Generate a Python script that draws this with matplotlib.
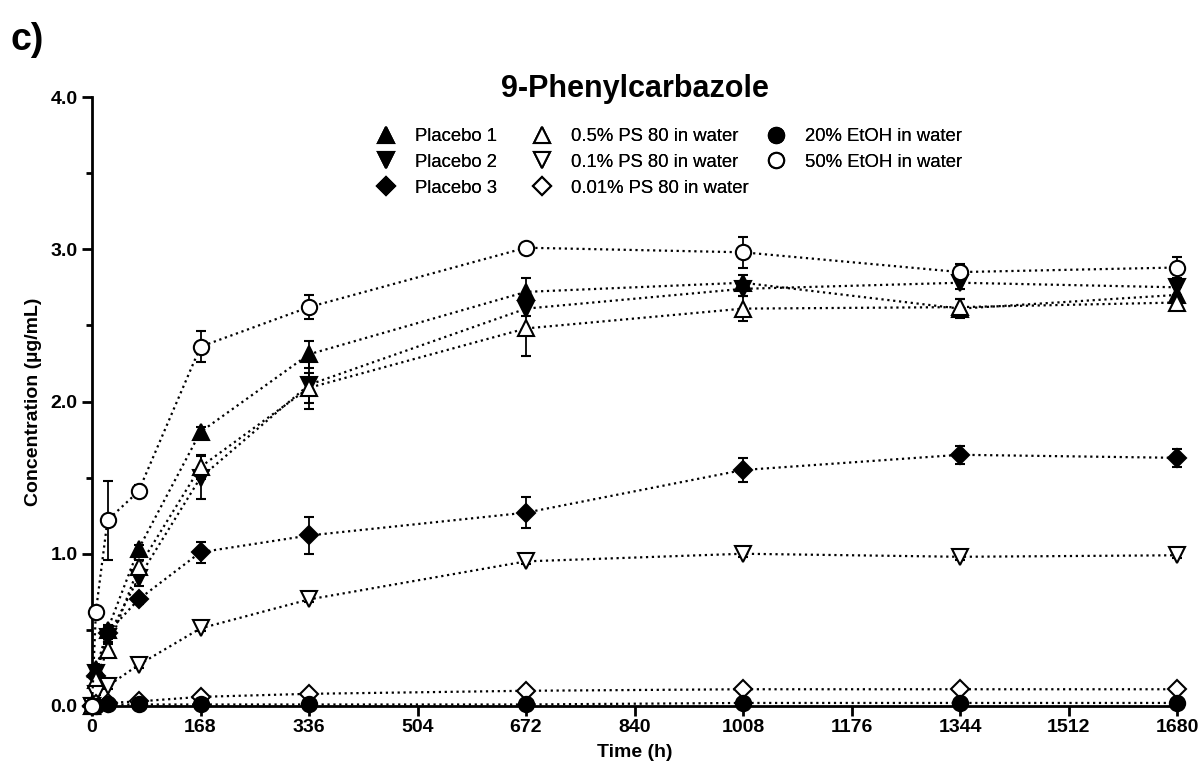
import matplotlib.pyplot as plt
import numpy as np
from matplotlib.lines import Line2D
from matplotlib.ticker import MultipleLocator

plt.rcParams['font.family'] = ['Liberation Sans', 'DejaVu Sans']

# sampling times (h)
time_h = [0, 6, 24, 72, 168, 336, 672, 1008, 1344, 1680]

# mean concentrations (ug/mL)
placebo1 = [0.0, 0.24, 0.50, 1.03, 1.80, 2.31, 2.72, 2.78, 2.61, 2.70]
placebo2 = [0.0, 0.22, 0.45, 0.84, 1.50, 2.11, 2.61, 2.74, 2.78, 2.75]
placebo3 = [0.0, 0.20, 0.48, 0.70, 1.01, 1.12, 1.27, 1.55, 1.65, 1.63]
ps80_05 = [0.0, 0.17, 0.37, 0.91, 1.57, 2.09, 2.48, 2.61, 2.62, 2.65]
ps80_01 = [0.0, 0.08, 0.13, 0.27, 0.51, 0.70, 0.95, 1.00, 0.98, 0.99]
ps80_001 = [0.0, 0.01, 0.02, 0.03, 0.06, 0.08, 0.10, 0.11, 0.11, 0.11]
etoh20 = [0.0, 0.0, 0.01, 0.01, 0.01, 0.01, 0.01, 0.02, 0.02, 0.02]
etoh50 = [0.0, 0.62, 1.22, 1.41, 2.36, 2.62, 3.01, 2.98, 2.85, 2.88]

# standard deviations
placebo1_sd = [0, 0.02, 0.03, 0.03, 0.03, 0.09, 0.09, 0.05, 0.06, 0.05]
placebo2_sd = [0, 0.02, 0.04, 0.05, 0.14, 0.16, 0.05, 0.05, 0.04, 0.05]
placebo3_sd = [0, 0.02, 0.04, 0.03, 0.07, 0.12, 0.10, 0.08, 0.06, 0.06]
ps80_05_sd = [0, 0.02, 0.05, 0.05, 0.08, 0.10, 0.18, 0.08, 0.05, 0.04]
ps80_01_sd = [0, 0.01, 0.02, 0.02, 0.02, 0.02, 0.02, 0.02, 0.02, 0.02]
ps80_001_sd = [0, 0, 0, 0, 0, 0.01, 0.01, 0.01, 0.01, 0.01]
etoh20_sd = [0, 0, 0, 0, 0, 0, 0, 0, 0, 0]
etoh50_sd = [0, 0.03, 0.26, 0.04, 0.10, 0.08, 0.03, 0.10, 0.05, 0.07]

series = [
    ('Placebo 1', placebo1, placebo1_sd, '^', 'black'),
    ('Placebo 2', placebo2, placebo2_sd, 'v', 'black'),
    ('Placebo 3', placebo3, placebo3_sd, 'D', 'black'),
    ('0.5% PS 80 in water', ps80_05, ps80_05_sd, '^', 'white'),
    ('0.1% PS 80 in water', ps80_01, ps80_01_sd, 'v', 'white'),
    ('0.01% PS 80 in water', ps80_001, ps80_001_sd, 'D', 'white'),
    ('20% EtOH in water', etoh20, etoh20_sd, 'o', 'black'),
    ('50% EtOH in water', etoh50, etoh50_sd, 'o', 'white'),
]

W, H = 1202, 781
fig = plt.figure(figsize=(W / 100, H / 100), dpi=100)
ax = fig.add_axes([92 / W, 1 - 706 / H, 1085 / W, 609 / H])

handles = []
for label, vals, sd, mk, face in series:
    ms = 9 if mk == 'D' else 11
    ax.errorbar(time_h, vals, yerr=sd, fmt=mk, ls=':', lw=1.6, color='black',
                mfc=face, mec='black', mew=1.5, ms=ms, capsize=3.5,
                elinewidth=1.3, capthick=1.3, clip_on=False, zorder=3)
    handles.append(Line2D([], [], ls='none', marker=mk, mfc=face, mec='black',
                          mew=1.5, ms=ms, label=label))

ax.set_xlim(0, 1680)
ax.set_ylim(0, 4.0)
ax.set_xticks(np.arange(0, 1681, 168))
ax.yaxis.set_major_locator(MultipleLocator(1.0))
ax.yaxis.set_minor_locator(MultipleLocator(0.5))
ax.set_yticklabels([f'{v:.1f}' for v in ax.get_yticks()])

for s in ['top', 'right']:
    ax.spines[s].set_visible(False)
for s in ['left', 'bottom']:
    ax.spines[s].set_linewidth(2)
ax.tick_params(which='major', length=7, width=2, labelsize=14)
ax.tick_params(which='minor', length=4, width=2)
ax.tick_params(axis='x', pad=2)
for t in ax.get_xticklabels() + ax.get_yticklabels():
    t.set_fontweight('bold')

ax.set_xlabel('Time (h)', fontsize=14, fontweight='bold', labelpad=6)
ax.set_ylabel('Concentration (µg/mL)', fontsize=14, fontweight='bold', labelpad=6)
ax.text(0.5, 1.0, '9-Phenylcarbazole', transform=ax.transAxes, ha='center',
        va='baseline', fontsize=22, fontweight='bold')

# legend: three columns placed separately
col_x = [377, 533, 767]
groups = [handles[0:3], handles[3:6], handles[6:8]]
for cx, grp in zip(col_x, groups):
    leg = fig.legend(handles=grp, loc='upper left',
                     bbox_to_anchor=(cx / W, 1 - 128 / H), frameon=False,
                     fontsize=13.3, borderpad=0, handlelength=1.0,
                     handletextpad=1.05, labelspacing=0.48, borderaxespad=0)
    fig.add_artist(leg)

fig.text(10 / W, 1 - 50 / H, 'c)', fontsize=27, fontweight='bold', va='baseline')

fig.savefig('out.png', dpi=100)
